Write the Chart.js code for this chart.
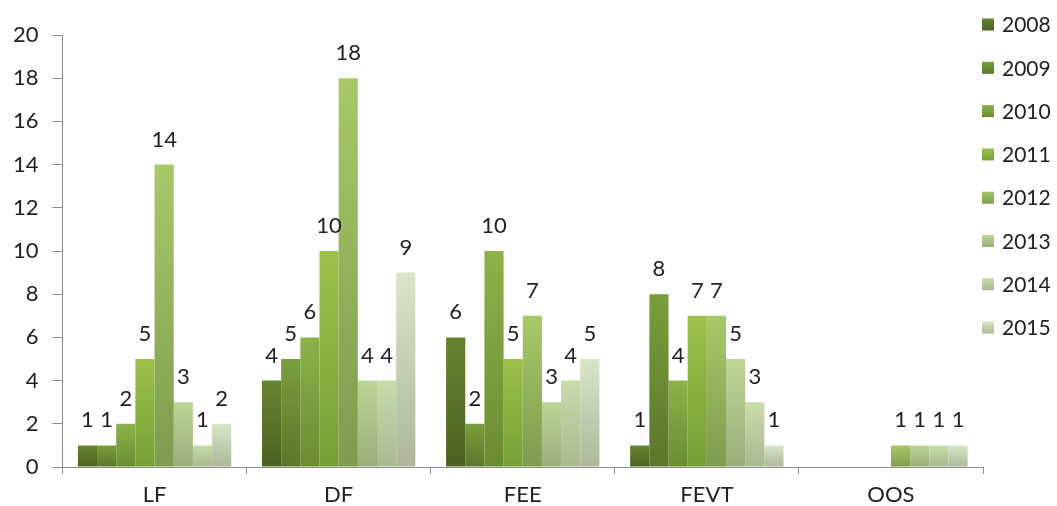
<!DOCTYPE html>
<html>
<head>
<meta charset="utf-8">
<script src="https://cdn.jsdelivr.net/npm/chart.js@4/dist/chart.umd.min.js"></script>
<style>
  html, body { margin: 0; padding: 0; background: #fff; }
  #wrap { width: 1057px; height: 506px; }
</style>
</head>
<body>
<div id="wrap"><canvas id="canvas_bar_chart"></canvas></div>
<script>
var categories = ['LF', 'DF', 'FEE', 'FEVT', 'OOS'];
var years = ['2008', '2009', '2010', '2011', '2012', '2013', '2014', '2015'];

var v2008 = [1, 4, 6, 1, 0];
var v2009 = [1, 5, 2, 8, 0];
var v2010 = [2, 6, 10, 4, 0];
var v2011 = [5, 10, 5, 7, 0];
var v2012 = [14, 18, 7, 7, 1];
var v2013 = [3, 4, 3, 5, 1];
var v2014 = [1, 4, 4, 3, 1];
var v2015 = [2, 9, 5, 1, 1];

var yTicks = [0, 2, 4, 6, 8, 10, 12, 14, 16, 18, 20];

var series = [v2008, v2009, v2010, v2011, v2012, v2013, v2014, v2015];

// top / bottom colour of each bar's gradient
var topColors = ['#66852f', '#7a9e3b', '#8db24a', '#9cc24b', '#a7c967', '#bbd697', '#c8dcab', '#d8e5c8'];
var bottomColors = ['#4a6222', '#5a772b', '#6a8c30', '#76a036', '#7d9c4f', '#9aae7a', '#a9b991', '#adb89b'];

function barFill(i) {
    return function(ctx) {
        var chart = ctx.chart;
        if (!chart.chartArea || !chart.scales.y || ctx.raw == null) return topColors[i];
        var y = chart.scales.y;
        var top = y.getPixelForValue(ctx.raw);
        var bottom = y.getPixelForValue(0);
        if (bottom - top < 1) return topColors[i];
        var g = chart.ctx.createLinearGradient(0, top, 0, bottom);
        g.addColorStop(0, topColors[i]);
        g.addColorStop(1, bottomColors[i]);
        return g;
    };
}

var datasets = series.map(function(vals, i) {
    return {
        label: years[i],
        data: vals,
        backgroundColor: barFill(i),
        borderWidth: 0,
        categoryPercentage: 0.833,
        barPercentage: 1.0
    };
});

var FONT = 'Lato, "Liberation Sans", sans-serif';

// value labels above bars (zero values left blank)
var valueLabels = {
    id: 'valueLabels',
    afterDatasetsDraw: function(chart) {
        var c = chart.ctx;
        c.save();
        c.font = '22px ' + FONT;
        c.fillStyle = '#222';
        c.textAlign = 'center';
        c.textBaseline = 'alphabetic';
        chart.data.datasets.forEach(function(ds, di) {
            var meta = chart.getDatasetMeta(di);
            meta.data.forEach(function(bar, j) {
                var v = ds.data[j];
                if (!v) return;
                c.fillText(String(v), bar.x, bar.y - 18);
            });
        });
        c.restore();
    }
};

// legend drawn at the right like the original
var sideLegend = {
    id: 'sideLegend',
    afterDraw: function(chart) {
        var c = chart.ctx;
        c.save();
        c.font = '21px ' + FONT;
        c.textAlign = 'left';
        c.textBaseline = 'middle';
        years.forEach(function(yr, i) {
            var cy = 24.5 + i * 43.3;
            var g = c.createLinearGradient(0, cy - 6, 0, cy + 6);
            g.addColorStop(0, topColors[i]);
            g.addColorStop(1, bottomColors[i]);
            c.fillStyle = g;
            c.fillRect(982, cy - 6, 12, 12);
            c.fillStyle = '#222';
            c.fillText(yr, 1002, cy + 1);
        });
        c.restore();
    }
};

var ctx = document.getElementById('canvas_bar_chart').getContext('2d');
var myChart = new Chart(ctx, {
    type: 'bar',
    data: {
        labels: categories,
        datasets: datasets
    },
    options: {
        responsive: true,
        maintainAspectRatio: false,
        animation: false,
        layout: {
            padding: { left: -1, right: 74, top: 35, bottom: -10 }
        },
        plugins: {
            legend: { display: false },
            tooltip: { enabled: false }
        },
        scales: {
            x: {
                grid: {
                    display: true,
                    drawOnChartArea: false,
                    drawTicks: true,
                    tickLength: 7,
                    color: '#8c8c8c',
                    offset: true
                },
                border: { display: true, color: '#8c8c8c', width: 1 },
                ticks: {
                    color: '#222',
                    font: { family: FONT, size: 22, lineHeight: 1 },
                    padding: 10
                }
            },
            y: {
                min: 0,
                max: 20,
                afterBuildTicks: function(axis) {
                    axis.ticks = yTicks.map(function(v) { return { value: v }; });
                },
                grid: {
                    display: true,
                    drawOnChartArea: false,
                    drawTicks: true,
                    tickLength: 10,
                    color: '#8c8c8c'
                },
                border: { display: true, color: '#8c8c8c', width: 1 },
                ticks: {
                    color: '#222',
                    font: { family: FONT, size: 22, lineHeight: 1 },
                    padding: 14
                }
            }
        }
    },
    plugins: [valueLabels, sideLegend]
});
</script>
</body>
</html>
